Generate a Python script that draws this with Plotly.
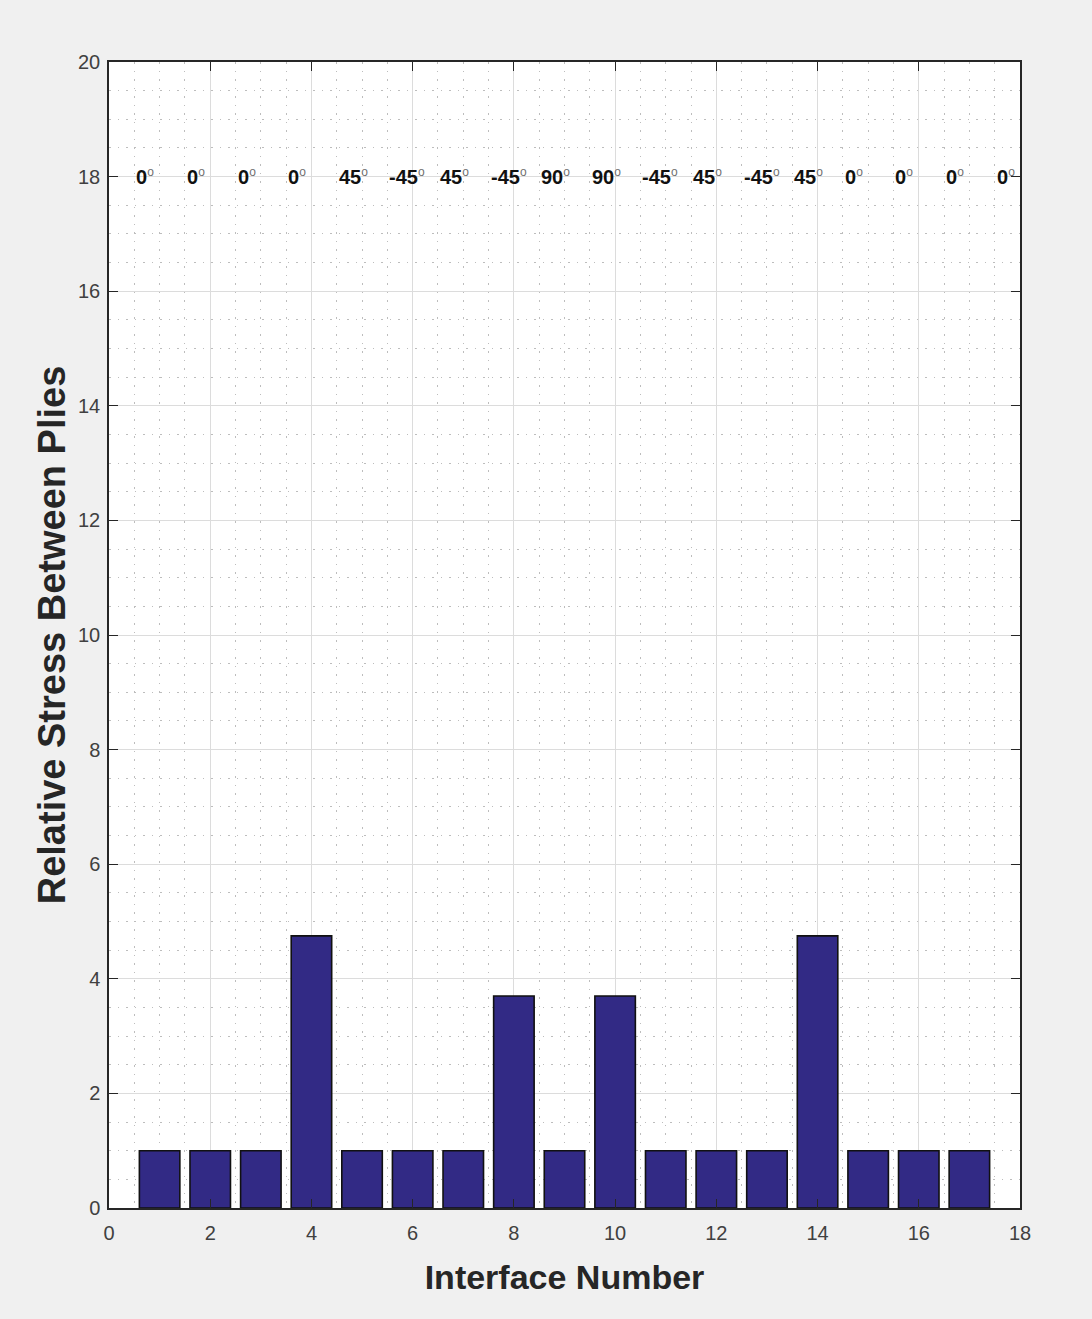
import plotly.graph_objects as go

# Interface data: relative stress at each ply-to-ply interface
interfaces = list(range(1, 18))
stress = [1, 1, 1, 4.75, 1, 1, 1, 3.7, 1, 3.7, 1, 1, 1, 4.75, 1, 1, 1]

# Ply layup orientations (degrees), one per ply
ply_angles = ["0", "0", "0", "0", "45", "-45", "45", "-45", "90",
              "90", "-45", "45", "-45", "45", "0", "0", "0", "0"]
ply_positions = [i + 0.5 for i in range(len(ply_angles))]
label_level = 18

x_ticks = list(range(0, 19, 2))
y_ticks = list(range(0, 21, 2))

BAR_COLOR = "#322a85"
AXIS_COLOR = "#262626"
TICK_FONT = dict(family="Liberation Sans, Arial, sans-serif", size=20, color="#404040")

fig = go.Figure()
fig.add_trace(go.Bar(
    x=interfaces, y=stress, width=0.8,
    marker=dict(color=BAR_COLOR, line=dict(color="#111111", width=1.6)),
    hoverinfo="x+y",
))

for xp, ang in zip(ply_positions, ply_angles):
    fig.add_annotation(
        x=xp, y=label_level, xref="x", yref="y",
        text=f"<b>{ang}</b><sup><span style='font-size:12px;color:#707070'>o</span></sup>",
        showarrow=False, xanchor="left", yanchor="middle",
        font=dict(family="Liberation Sans, Arial, sans-serif", size=20, color="#111111"),
    )

MINOR_GRID = dict(dtick=0.5, showgrid=True, gridcolor="#bdbdbd",
                  griddash="1.5px,7px", gridwidth=1, ticks="")

common_axis = dict(
    showline=True, linecolor=AXIS_COLOR, linewidth=1.5, mirror="ticks",
    ticks="inside", ticklen=9, tickwidth=1.3, tickcolor=AXIS_COLOR,
    showgrid=True, gridcolor="#dcdcdc", gridwidth=1,
    zeroline=False, tickfont=TICK_FONT,
)

fig.update_xaxes(
    range=[0, 18], tickvals=x_ticks, minor=MINOR_GRID, ticklabelstandoff=6,
    title=dict(text="<b>Interface Number</b>", standoff=22,
               font=dict(family="Liberation Sans Narrow, Arial Narrow, Liberation Sans, sans-serif",
                         size=34, color="#262626")),
    **common_axis,
)
fig.update_yaxes(
    range=[0, 20], tickvals=y_ticks, minor=MINOR_GRID, ticklabelstandoff=3,
    title=dict(text="<b>Relative Stress Between Plies</b>", standoff=1,
               font=dict(family="Liberation Sans, Arial, sans-serif", size=38, color="#262626")),
    **common_axis,
)

fig.update_layout(
    width=1092, height=1319,
    margin=dict(l=109, r=72, t=62, b=111),
    paper_bgcolor="#f0f0f0", plot_bgcolor="#ffffff",
    showlegend=False, bargap=0.2,
)

fig.write_html("out.html")
